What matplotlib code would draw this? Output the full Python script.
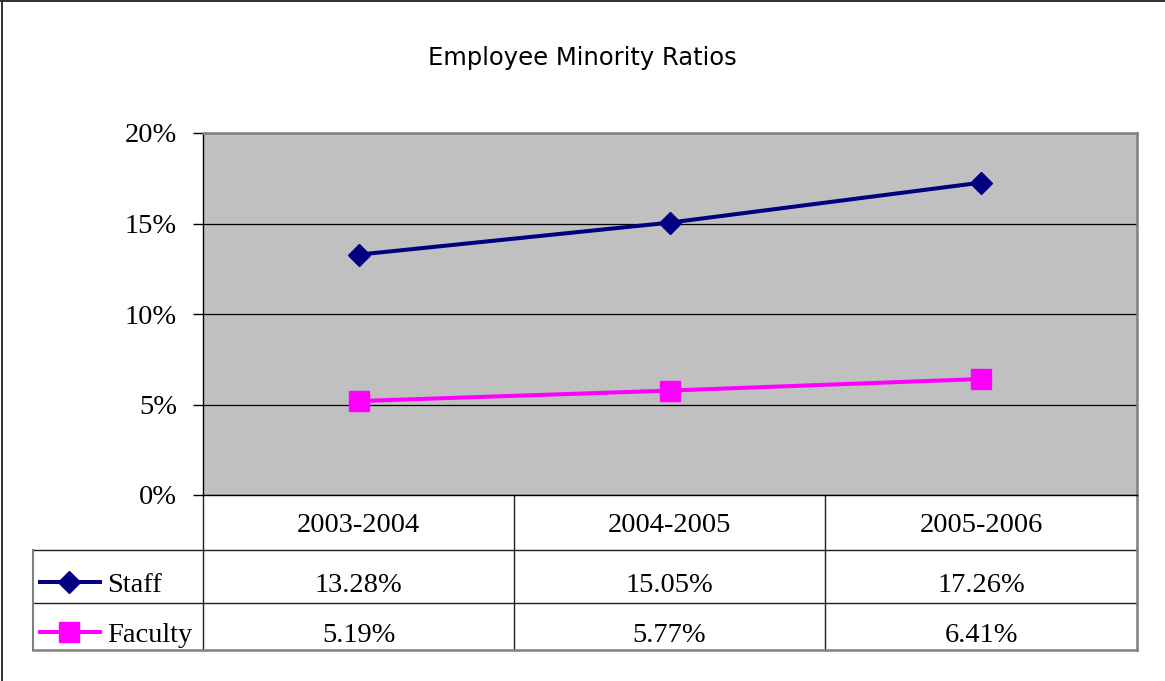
import matplotlib
matplotlib.use("Agg")
import matplotlib.pyplot as plt
from matplotlib.lines import Line2D
from matplotlib.ticker import PercentFormatter

# ---------------- Data ----------------
years = ["2003-2004", "2004-2005", "2005-2006"]
staff = [13.28, 15.05, 17.26]
faculty = [5.19, 5.77, 6.41]
series_names = ["Staff", "Faculty"]
yticks = [0, 5, 10, 15, 20]

NAVY = "#000080"
MAGENTA = "#FF00FF"
W, H = 1165, 681
SERIF = "Liberation Serif"
FS = 20.5

# ---------------- Figure ----------------
fig = plt.figure(figsize=(W / 100, H / 100), dpi=100)
fig.patch.set_facecolor("white")

def fx(x):
    return x / W

def fy(y):
    return 1 - y / H

ax = fig.add_axes([fx(203), fy(495), fx(1137) - fx(203), fy(133) - fy(495)])
ax.set_facecolor("#C0C0C0")

xs = list(range(len(years)))
ax.plot(xs, staff, color=NAVY, lw=2.9, marker="D", ms=11.5, zorder=3)
ax.plot(xs, faculty, color=MAGENTA, lw=2.9, marker="s", ms=15, zorder=3)

ax.set_xlim(-0.5, len(years) - 0.5)
ax.set_ylim(0, 20)
ax.set_yticks(yticks)
ax.yaxis.set_major_formatter(PercentFormatter(decimals=0))
ax.set_xticks([])
ax.grid(axis="y", color="black", lw=0.9)
ax.set_axisbelow(True)
for s in ["top", "right"]:
    ax.spines[s].set_color("#808080")
    ax.spines[s].set_linewidth(1.8)
for s in ["left", "bottom"]:
    ax.spines[s].set_color("black")
    ax.spines[s].set_linewidth(1.0)
ax.tick_params(axis="y", length=7.5, width=1, pad=11.3, labelsize=FS)
for lab in ax.get_yticklabels():
    lab.set_fontfamily(SERIF)

fig.text(0.5, fy(58), "Employee Minority Ratios", ha="center", va="center",
         fontsize=17.5, family="DejaVu Sans")

# ---------------- Data table under the axis ----------------
tax = fig.add_axes([0, 0, 1, 1], zorder=-1)
tax.set_xlim(0, W)
tax.set_ylim(H, 0)
tax.axis("off")

lc = "#202020"
edge = "#808080"
col_x = [203, 514, 825, 1137]
row_y = [495, 550, 603, 650]
for y in row_y[1:-1]:
    tax.plot([33, 1137], [y, y], color=lc, lw=1)
for x in col_x[:-1]:
    tax.plot([x, x], [495, 650], color=lc, lw=1)
tax.plot([33, 1137], [650, 650], color=edge, lw=1.8)
tax.plot([1137, 1137], [495, 650], color=edge, lw=1.8)
tax.plot([33, 33], [550, 650], color=edge, lw=1.5)

tfont = dict(family=SERIF, fontsize=FS, ha="center", va="center")
row_text_y = [525, 585, 635]
for i, yr in enumerate(years):
    cx = (col_x[i] + col_x[i + 1]) / 2
    tax.text(cx, row_text_y[0], yr, **tfont)
    tax.text(cx, row_text_y[1], f"{staff[i]:.2f}%", **tfont)
    tax.text(cx, row_text_y[2], f"{faculty[i]:.2f}%", **tfont)

# legend keys in the row header cells
keys = [(NAVY, "D", 11.5), (MAGENTA, "s", 15)]
for (c, m, ms), name, cy in zip(keys, series_names, [582, 632]):
    tax.add_line(Line2D([40, 100], [cy, cy], color=c, lw=2.9))
    tax.add_line(Line2D([69], [cy], color=c, marker=m, ms=ms, lw=0))
    tax.text(107, cy + 3, name, family=SERIF, fontsize=FS, ha="left", va="center")

# chart frame: only the top and left edges fall inside the image
tax.plot([1, W], [1, 1], color="#303030", lw=1.4)
tax.plot([1.5, 1.5], [0, H], color="#303030", lw=1.4)

fig.savefig("out.png", dpi=100)
